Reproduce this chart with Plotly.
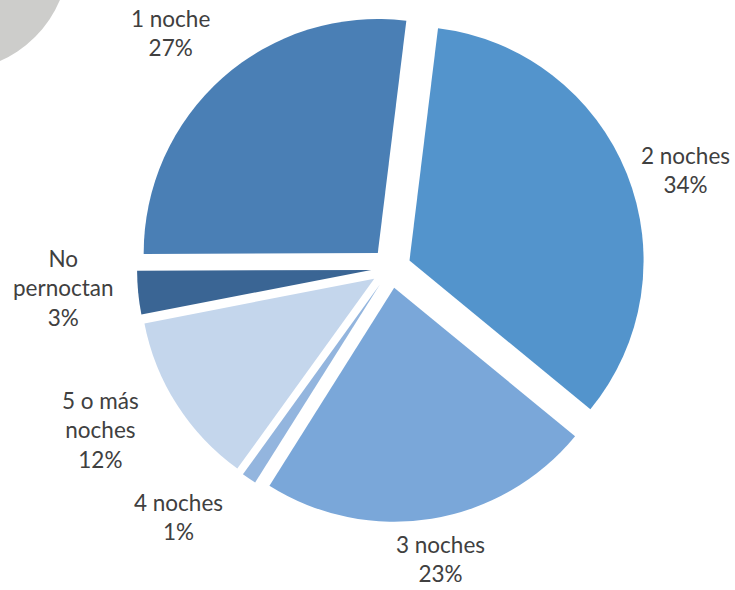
import plotly.graph_objects as go

# Data (clockwise from top)
categories = ["2 noches", "3 noches", "4 noches", "5 o más noches", "No pernoctan", "1 noche"]
display_labels = ["2 noches", "3 noches", "4 noches", "5 o más<br>noches", "No<br>pernoctan", "1 noche"]
values = [34, 23, 1, 12, 3, 27]
colors = ["#5394cc", "#7aa7d9", "#93b5de", "#c4d6ec", "#3a6594", "#4a7fb5"]

# label anchor positions (pixels in a 735x590 canvas)
label_px = [(685, 170), (440, 559), (178, 517), (100, 430), (64, 288), (170, 33)]

W, H = 735, 590

fig = go.Figure()
fig.add_trace(go.Pie(
    labels=categories,
    values=values,
    sort=False,
    direction="clockwise",
    rotation=7,
    pull=[0.085] * len(values),
    marker=dict(colors=colors, line=dict(width=0)),
    textinfo="none",
    hoverinfo="label+percent",
    domain=dict(x=[137 / W, 645 / W], y=[1 - 522 / H, 1 - 14 / H]),
    showlegend=False,
))

total = sum(values)
annotations = []
for lab, v, (px, py) in zip(display_labels, values, label_px):
    annotations.append(dict(
        x=px / W, y=1 - py / H, xref="paper", yref="paper",
        text=f"{lab}<br>{round(100 * v / total)}%",
        showarrow=False, xanchor="center", yanchor="middle",
        font=dict(family="Lato", size=22.5, color="#404040"),
        align="center",
    ))

# decorative grey circle in the top-left corner
cx, cy, cr = -47, -45, 116
shapes = [dict(
    type="circle", xref="paper", yref="paper", layer="below",
    x0=(cx - cr) / W, x1=(cx + cr) / W,
    y0=1 - (cy + cr) / H, y1=1 - (cy - cr) / H,
    fillcolor="#cdcdcb", line=dict(width=0),
)]

fig.update_layout(
    width=W, height=H,
    margin=dict(l=0, r=0, t=0, b=0),
    paper_bgcolor="white", plot_bgcolor="white",
    annotations=annotations,
    shapes=shapes,
)

fig.write_html(
    "out.html",
    config={"displayModeBar": False},
    post_script="document.body.style.margin='0px';document.body.style.overflow='hidden';",
)
